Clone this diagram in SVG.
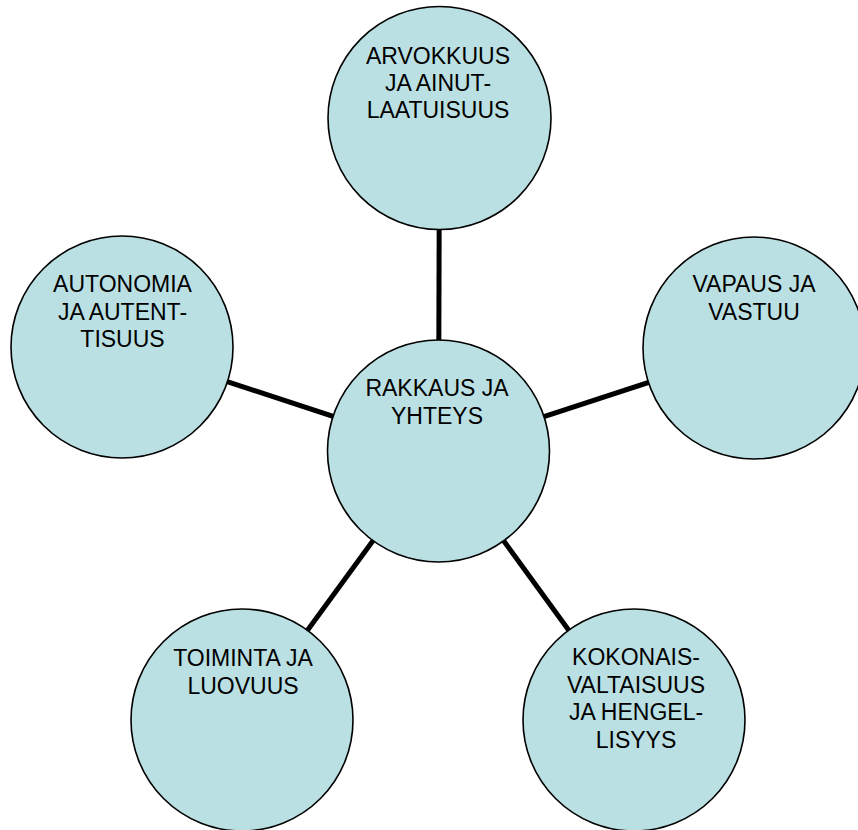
<svg xmlns="http://www.w3.org/2000/svg" width="858" height="830" viewBox="0 0 858 830">
  <style>
    .node circle { fill: #BBE0E3; stroke: #000; stroke-width: 1.6; }
    .node text { font-family: "Liberation Sans", Arial, sans-serif; font-size: 23px; fill: #000; text-anchor: middle; }
    .links line { stroke: #000; stroke-width: 5; }
  </style>
  <rect width="858" height="830" fill="#fff"/>
  <!-- spokes from the hub to each outer circle (drawn under the circles) -->
  <g id="connectors" class="links">
    <line x1="438.5" y1="451" x2="439.5" y2="118"/>
    <line x1="438.5" y1="451" x2="122" y2="347"/>
    <line x1="438.5" y1="451" x2="754" y2="348"/>
    <line x1="438.5" y1="451" x2="242" y2="720"/>
    <line x1="438.5" y1="451" x2="634" y2="720"/>
  </g>
  <g id="arvokkuus" class="node">
    <circle cx="439.5" cy="118" r="111.5"/>
    <text x="438" y="64">ARVOKKUUS</text>
    <text x="438" y="91">JA AINUT-</text>
    <text x="438" y="118">LAATUISUUS</text>
  </g>
  <g id="autonomia" class="node">
    <circle cx="122" cy="347" r="111"/>
    <text x="122.5" y="292">AUTONOMIA</text>
    <text x="122.5" y="319.5">JA AUTENT-</text>
    <text x="122.5" y="347">TISUUS</text>
  </g>
  <g id="vapaus" class="node">
    <circle cx="754" cy="348" r="111"/>
    <text x="754" y="292">VAPAUS JA</text>
    <text x="754" y="319.5">VASTUU</text>
  </g>
  <g id="rakkaus" class="node">
    <circle cx="438.5" cy="451" r="111"/>
    <text x="437" y="396">RAKKAUS JA</text>
    <text x="437" y="423.5">YHTEYS</text>
  </g>
  <g id="toiminta" class="node">
    <circle cx="242" cy="720" r="111"/>
    <text x="243" y="666">TOIMINTA JA</text>
    <text x="243" y="693.5">LUOVUUS</text>
  </g>
  <g id="kokonaisvaltaisuus" class="node">
    <circle cx="634" cy="720" r="111"/>
    <text x="636" y="665">KOKONAIS-</text>
    <text x="636" y="692.5">VALTAISUUS</text>
    <text x="636" y="720">JA HENGEL-</text>
    <text x="636" y="747.5">LISYYS</text>
  </g>
</svg>
